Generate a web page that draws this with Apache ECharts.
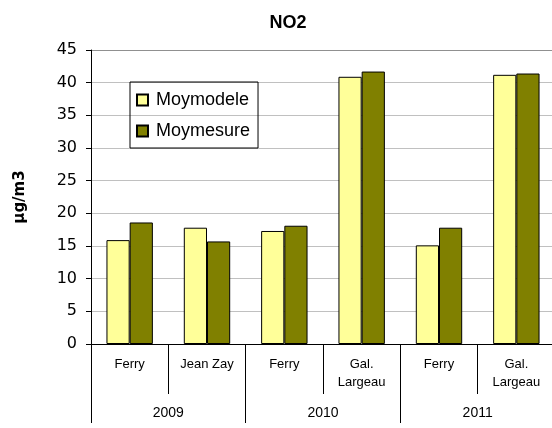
<!DOCTYPE html>
<html>
<head>
<meta charset="utf-8">
<script src="https://cdn.jsdelivr.net/npm/echarts@6/dist/echarts.min.js"></script>
<style>
  html, body { margin: 0; padding: 0; background: #fff; }
  #chart { width: 552px; height: 428px; }
</style>
</head>
<body>
<div id="chart"></div>
<script>
// NO2 annual means per site: model vs measurement
const sites = ['Ferry', 'Jean Zay', 'Ferry', 'Gal.\nLargeau', 'Ferry', 'Gal.\nLargeau'];
const years = ['2009', '2010', '2011'];
const moyModele = [15.9, 17.8, 17.3, 40.9, 15.1, 41.2];
const moyMesure = [18.6, 15.7, 18.1, 41.7, 17.8, 41.4];
const yTicks = { min: 0, max: 45, interval: 5 };

const FONT = '"Liberation Sans", Arial, sans-serif';
const WIDE = '"DejaVu Sans", sans-serif';
const gridColors = ['#c0c0c0', '#c0c0c0', '#c0c0c0', '#c0c0c0', '#c0c0c0',
                    '#c0c0c0', '#c0c0c0', '#c0c0c0', '#c0c0c0', '#909090'];

const chart = echarts.init(document.getElementById('chart'), null, { renderer: 'canvas' });
chart.setOption({
  animation: false,
  backgroundColor: '#fff',
  textStyle: { fontFamily: FONT },
  title: {
    text: 'NO2',
    left: 283,
    textAlign: 'center',
    top: 9,
    textStyle: { fontFamily: FONT, fontSize: 18, fontWeight: 'bold', color: '#000' }
  },
  legend: {
    orient: 'vertical',
    left: 130,
    top: 82,
    padding: [9, 8, 8, 6],
    itemGap: 13,
    itemWidth: 11,
    itemHeight: 11,
    borderColor: '#000',
    borderWidth: 1,
    icon: 'rect',
    textStyle: { fontFamily: FONT, fontSize: 18, lineHeight: 18, color: '#000', padding: [0, 0, 0, 3] },
    data: ['Moymodele', 'Moymesure']
  },
  grid: { left: 91, right: -3, top: 50, bottom: 84, containLabel: false, outerBoundsMode: 'none' },
  xAxis: [
    {
      type: 'category',
      data: sites,
      position: 'bottom',
      axisLine: { show: true, lineStyle: { color: '#000', width: 1 } },
      axisTick: { show: true, length: 50, interval: 0, lineStyle: { color: '#000' } },
      axisLabel: {
        interval: 0, margin: 11, fontSize: 13, lineHeight: 18, color: '#000',
        verticalAlign: 'top', fontFamily: FONT
      },
      splitLine: { show: false }
    },
    {
      type: 'category',
      data: years,
      position: 'bottom',
      axisLine: { show: false },
      axisTick: { show: true, length: 79, interval: 0, lineStyle: { color: '#000' } },
      axisLabel: {
        interval: 0, margin: 62, fontSize: 14, lineHeight: 14, color: '#000',
        verticalAlign: 'top', fontFamily: FONT
      },
      splitLine: { show: false }
    }
  ],
  yAxis: {
    type: 'value',
    min: yTicks.min,
    max: yTicks.max,
    interval: yTicks.interval,
    name: 'µg/m3',
    nameLocation: 'middle',
    nameGap: 63,
    nameRotate: 90,
    nameTextStyle: { fontFamily: WIDE, fontSize: 15, fontWeight: 'bold', color: '#000' },
    axisLine: { show: true, lineStyle: { color: '#000', width: 1 } },
    axisTick: { show: true, length: 5, lineStyle: { color: '#000' } },
    axisLabel: { fontSize: 16, color: '#000', margin: 14, fontFamily: WIDE },
    splitLine: { show: true, lineStyle: { color: gridColors, width: 1 } }
  },
  series: [
    {
      name: 'Moymodele',
      type: 'bar',
      xAxisIndex: 0,
      data: moyModele,
      barGap: '0%',
      barCategoryGap: '40%',
      itemStyle: { color: '#FFFF99', borderColor: '#000', borderWidth: 1 }
    },
    {
      name: 'Moymesure',
      type: 'bar',
      xAxisIndex: 0,
      data: moyMesure,
      barGap: '0%',
      barCategoryGap: '40%',
      itemStyle: { color: '#808000', borderColor: '#000', borderWidth: 1 }
    }
  ]
});
</script>
</body>
</html>
